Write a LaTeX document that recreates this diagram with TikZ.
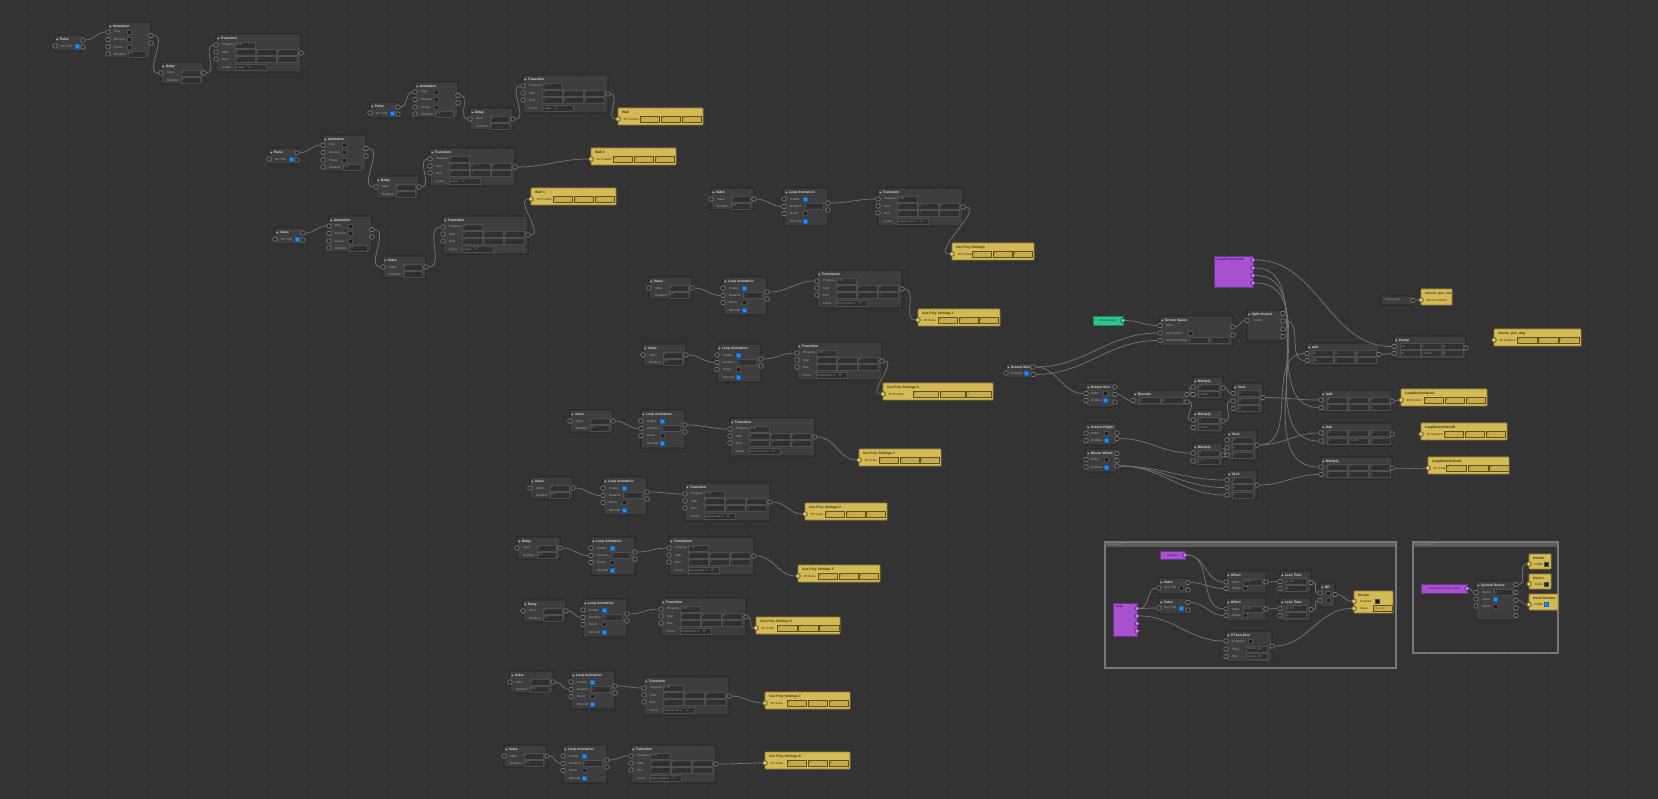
\documentclass[tikz,border=0pt]{standalone}
\usepackage{fontspec}
\setmainfont{Liberation Sans}
\usetikzlibrary{calc}
\definecolor{bg}{RGB}{51,51,51}
\definecolor{dotc}{RGB}{66,66,66}
\definecolor{nfill}{RGB}{62,62,62}
\definecolor{nbord}{RGB}{32,32,32}
\definecolor{ttext}{RGB}{215,215,215}
\definecolor{ltext}{RGB}{165,165,165}
\definecolor{ffill}{RGB}{47,47,47}
\definecolor{fbord}{RGB}{78,78,78}
\definecolor{ftext}{RGB}{140,140,140}
\definecolor{yfill}{RGB}{212,186,86}
\definecolor{ybord}{RGB}{150,128,52}
\definecolor{yfld}{RGB}{198,172,76}
\definecolor{ydark}{RGB}{95,80,30}
\definecolor{ytext}{RGB}{60,50,20}
\definecolor{pfill}{RGB}{168,82,210}
\definecolor{pbord}{RGB}{110,50,140}
\definecolor{pdark}{RGB}{80,30,110}
\definecolor{gfill}{RGB}{46,196,140}
\definecolor{gbord}{RGB}{30,130,90}
\definecolor{wcol}{RGB}{118,118,118}
\definecolor{portf}{RGB}{44,44,44}
\definecolor{portd}{RGB}{140,140,140}
\definecolor{cblue}{RGB}{30,144,255}
\definecolor{cdark}{RGB}{30,30,30}
\definecolor{grpc}{RGB}{120,120,120}
\definecolor{grpbar}{RGB}{92,92,92}
\tikzset{
 nodebox/.style={draw=nbord,fill=nfill,line width=0.7pt,rounded corners=0.8pt,inner sep=0pt,outer sep=0pt},
 ybox/.style={draw=ybord,fill=yfill,line width=0.7pt,rounded corners=0.6pt,inner sep=0pt,outer sep=0pt},
 pbox/.style={draw=pbord,fill=pfill,line width=0.6pt,inner sep=0pt,outer sep=0pt},
 gbox/.style={draw=gbord,fill=gfill,line width=0.6pt,inner sep=0pt,outer sep=0pt},
 ttl/.style={anchor=west,inner sep=0pt,text=ttext,font=\fontsize{3.4}{4}\selectfont\bfseries},
 ttly/.style={anchor=west,inner sep=0pt,text=ytext,font=\fontsize{3.4}{4}\selectfont\bfseries},
 ttlp/.style={anchor=west,inner sep=0pt,text=pdark,font=\fontsize{3.2}{4}\selectfont\bfseries},
 lbl/.style={anchor=west,inner sep=0pt,text=ltext,font=\fontsize{3}{3.6}\selectfont},
 lbly/.style={anchor=west,inner sep=0pt,text=ytext,font=\fontsize{3}{3.6}\selectfont},
 ctr/.style={inner sep=0pt,text=ytext,font=\fontsize{3}{3.6}\selectfont},
 fld/.style={draw=fbord,fill=ffill,line width=0.4pt,inner sep=0pt,minimum height=6pt,anchor=west},
 fldy/.style={draw=ydark,fill=yfld,line width=0.5pt,inner sep=0pt,minimum height=6pt,anchor=west},
 ftxt/.style={anchor=west,inner sep=0pt,text=ftext,font=\fontsize{2.8}{3.4}\selectfont},
 ftxty/.style={anchor=west,inner sep=0pt,text=ytext!70!yfld,font=\fontsize{2.8}{3.4}\selectfont},
 port/.style={circle,draw=portd,fill=portf,line width=0.5pt,minimum size=4.6pt,inner sep=0pt},
 yport/.style={circle,draw=ydark,fill=yfill!80!white,line width=0.8pt,minimum size=4.6pt,inner sep=0pt},
 pport/.style={circle,draw=pdark,fill=pfill!70!white,line width=0.7pt,minimum size=4.4pt,inner sep=0pt},
 gport/.style={circle,draw=gbord!60!black,fill=gfill!70!white,line width=0.7pt,minimum size=4.4pt,inner sep=0pt},
 cbb/.style={rectangle,fill=cblue,draw=cblue!70!black,line width=0.3pt,minimum size=4pt,inner sep=0pt},
 cbd/.style={rectangle,fill=cdark,draw=fbord,line width=0.3pt,minimum size=4pt,inner sep=0pt},
 wire/.style={draw=wcol,line width=0.7pt},
 grp/.style={draw=grpc,line width=1.4pt,fill=bg,inner sep=0pt,outer sep=0pt},
}
\newcounter{qn}
\newcommand\qLb[3]{\stepcounter{qn}\node[lbl] (q\theqn) at (#1,#2) {#3};}
\newcommand\qLy[3]{\stepcounter{qn}\node[lbly] (q\theqn) at (#1,#2) {#3};}
\newcommand\qFd[4]{\stepcounter{qn}\node[fld,minimum width=#3pt] (q\theqn) at (#1,#2) {};\node[ftxt,xshift=1.5pt] (q\theqn t) at (q\theqn.west) {#4};}
\newcommand\qFy[4]{\stepcounter{qn}\node[fldy,minimum width=#3pt] (q\theqn) at (#1,#2) {};\node[ftxty,xshift=1.5pt] (q\theqn t) at (q\theqn.west) {#4};}
\newcommand\qCb[3]{\stepcounter{qn}\node[#3] (q\theqn) at (#1,#2) {};}
\newcommand\qPt[3]{\node[port] (#1) at (#2,#3) {};}
\newcommand\qPy[3]{\node[yport] (#1) at (#2,#3) {};}
\newcommand\qPp[3]{\node[pport] (#1) at (#2,#3) {};}
\newcommand\qBx[4]{\node[nodebox,minimum width=#2pt,minimum height=#3pt,anchor=north west] (#1) at (0,0) {};
 \node[ttl] (#1-t) at (4.6,4.4) {#4};
 \fill[ttext] (1.6,3.4) -- (3.3,4.4) -- (1.6,5.4) -- cycle;}
\newcommand\qBy[4]{\node[ybox,minimum width=#2pt,minimum height=#3pt,anchor=north west] (#1) at (0,0) {};
 \node[ttly] (#1-t) at (4,4.4) {#4};}
\newcommand\qW[2]{\draw[wire] (#1) to[out=0,in=180] (#2);}
\newcommand\qRow[4]{\qFd{5.5}{#1}{20}{#2}\qFd{27}{#1}{20}{#3}\qFd{48.5}{#1}{20}{#4}}
% templates
\newcommand\mkPulse[4]{\begin{scope}[shift={(#2,#3)}]
 \qBx{#1}{28}{16}{#4}
 \qLb{6}{11}{On / Off}\qCb{22.5}{11}{cbb}
 \qPt{#1-i}{0}{11}\qPt{#1-o1}{28}{5}\qPt{#1-o2}{28}{12}
\end{scope}}
\newcommand\mkAnim[3]{\begin{scope}[shift={(#2,#3)}]
 \qBx{#1}{43}{36}{Animation}
 \qLb{6}{10}{Play}\qCb{21}{10}{cbd}
 \qLb{6}{17.5}{Reverse}\qCb{21}{17.5}{cbd}
 \qLb{6}{25}{Pause}\qCb{21}{25}{cbd}
 \qLb{6}{32}{Duration}\qFd{19.5}{32}{18}{1.0}
 \qPt{#1-i1}{0}{10}\qPt{#1-i2}{0}{17.5}\qPt{#1-i3}{0}{25}\qPt{#1-i4}{0}{32}
 \qPt{#1-o1}{43}{13.5}\qPt{#1-o2}{43}{21}
\end{scope}}
\newcommand\mkDelay[8]{\begin{scope}[shift={(#2,#3)}]
 \qBx{#1}{43}{22}{#4}
 \qLb{6}{11}{#5}\qFd{19.5}{11}{19}{#6}
 \qLb{6}{18}{#7}\qFd{19.5}{18}{19}{#8}
 \qPt{#1-i}{0}{11}\qPt{#1-o}{43}{11}
\end{scope}}
\newcommand\mkTrans[6]{\begin{scope}[shift={(#2,#3)}]
 \qBx{#1}{85}{38}{#4}
 \qLb{6}{11}{Progress}\qFd{19}{11}{20}{#6}
 \qLb{6}{18}{Start}\qFd{19}{18}{19.5}{0}\qFd{40}{18}{19.5}{0}\qFd{61}{18}{19.5}{0}
 \qLb{6}{25}{End}\qFd{19}{25}{19.5}{1}\qFd{40}{25}{19.5}{1}\qFd{61}{25}{19.5}{1}
 \qLb{6}{33}{Curve}\qFd{19}{33}{31}{#5\ \ \ \(\vee\)}
 \qPt{#1-i1}{0}{11}\qPt{#1-i2}{0}{18}\qPt{#1-i3}{0}{25}\qPt{#1-o}{85}{19}
\end{scope}}
\newcommand\mkLoop[3]{\begin{scope}[shift={(#2,#3)}]
 \qBx{#1}{44}{38}{Loop Animation}
 \qLb{6}{11}{Enable}\qCb{21.5}{11}{cbb}
 \qLb{6}{18.5}{Duration}\qFd{20}{18.5}{19}{1}
 \qLb{6}{25.5}{Reset}\qCb{21.5}{25.5}{cbd}
 \qLb{6}{33}{Mirrored}\qCb{21.5}{33}{cbb}
 \qPt{#1-i1}{0}{11}\qPt{#1-i2}{0}{18.5}\qPt{#1-i3}{0}{25.5}
 \qPt{#1-o1}{44}{15}\qPt{#1-o2}{44}{22}
\end{scope}}
\newcommand\mkYel[8]{\begin{scope}[shift={(#2,#3)}]
 \qBy{#1}{#4}{17}{#5}
 \qLy{5.5}{11}{#6}
 \qFy{#7}{11}{#8}{0}\qFy{#7+#8+1.5}{11}{#8}{0}\qFy{#7+2*#8+3}{11}{#8}{0}
 \qPy{#1-i}{0}{11}
\end{scope}}
\newcommand\mkVal[3]{\mkDelay{#1}{#2}{#3}{Value}{Index}{0}{Duration}{0.5}}
\begin{document}
\begin{tikzpicture}[x=1pt,y=-1pt]
\fill[bg] (0,0) rectangle (1658,799);
\useasboundingbox (0,0) rectangle (1658,799);
\foreach \yy in {4,14,...,799} \draw[dotc,line width=0.9pt,dash pattern=on 0.9pt off 9.1pt] (4,\yy) -- (1658,\yy);
% ---------- cluster A
\mkPulse{A1}{55}{35}{Pulse}
\mkAnim{A2}{108}{22}
\mkDelay{A3}{161}{62}{Delay}{Input}{0}{Duration}{2}
\mkTrans{A4}{216}{34}{Transition}{Linear}{0.00}
% ---------- cluster B
\mkPulse{B1}{370}{102}{Pulse}
\mkAnim{B2}{415}{82}
\mkDelay{B3}{470}{108}{Delay}{Input}{0}{Duration}{2}
\mkTrans{B4}{523}{75}{Transition}{Linear}{0}
\mkYel{B5}{618}{108}{85}{Wall}{3D Position}{21.5}{19.5}
% ---------- cluster C
\mkPulse{C1}{269}{148}{Pulse}
\mkAnim{C2}{323}{135}
\mkDelay{C3}{376}{176}{Delay}{Input}{0}{Duration}{2}
\mkTrans{C4}{430}{148}{Transition}{Linear}{0}
\mkYel{C5}{591}{148}{85}{Wall 2}{3D Position}{21.5}{19.5}
% ---------- cluster D
\mkPulse{D1}{275}{228}{Value}
\mkAnim{D2}{329}{216}
\mkDelay{D3}{383}{256}{Value}{Index}{0}{Duration}{2}
\mkTrans{D4}{443}{216}{Transition}{Linear}{0}
\mkYel{D5}{531}{188}{85}{Wall 1}{3D Position}{21.5}{19.5}
% ---------- loop clusters
\mkVal{E1}{711}{188}\mkLoop{E2}{784}{188}\mkTrans{E3}{878}{188}{Transition}{Exponential In}{0.00}
\mkYel{E4}{952}{243}{82}{Use Poly Settings}{3D Position}{20}{19}
\mkVal{F1}{649}{277}\mkLoop{F2}{723}{277}\mkTrans{F3}{817}{270}{Translation}{Exponential In}{0.00}
\mkYel{F4}{918}{309}{82}{Use Poly Settings 1}{3D Scale}{20}{19}
\mkVal{G1}{643}{344}\mkLoop{G2}{717}{344}\mkTrans{G3}{797}{342}{Transition}{Exponential In}{0.00}
\mkYel{G4}{883}{383}{110}{Use Poly Settings 2}{3D Position}{30}{25}
\mkVal{H1}{570}{410}\mkLoop{H2}{641}{410}\mkTrans{H3}{730}{418}{Transition}{Exponential In}{0.00}
\mkYel{H4}{859}{449}{82}{Use Poly Settings 3}{3D Scale}{20}{19}
\mkVal{I1}{530}{477}\mkLoop{I2}{603}{477}\mkTrans{I3}{685}{483}{Transition}{Exponential In}{0.00}
\mkYel{I4}{805}{503}{82}{Use Poly Settings 4}{3D Scale}{20}{19}
\mkDelay{J1}{517}{537}{Delay}{Input}{0}{Duration}{0.5}\mkLoop{J2}{591}{537}\mkTrans{J3}{669}{537}{Translation}{Exponential In}{0.00}
\mkYel{J4}{798}{565}{82}{Use Poly Settings 5}{3D Scale}{20}{19}
\mkDelay{K1}{523}{600}{Delay}{Input}{0}{Duration}{1.0}\mkLoop{K2}{583}{599}\mkTrans{K3}{661}{598}{Transition}{Exponential In}{0.00}
\mkYel{K4}{756}{617}{84}{Use Poly Settings 6}{3D Scale}{21}{19.5}
\mkVal{M1x}{510}{671}\mkLoop{M2x}{571}{671}\mkTrans{M3x}{644}{677}{Transition}{Exponential In}{0.00}
\mkYel{M4x}{765}{692}{85}{Use Poly Settings 7}{3D Scale}{21.5}{19.5}
\mkVal{N1x}{504}{745}\mkLoop{N2x}{563}{745}\mkTrans{N3x}{631}{745}{Transition}{Exponential In}{0.00}
\mkYel{N4x}{765}{752}{85}{Use Poly Settings 8}{3D Scale}{21.5}{19.5}
% ---------- right cluster
\node[pbox,minimum width=39pt,minimum height=31pt,anchor=north west] (P1) at (1214,256) {};
\node[ttlp] (P1t) at (1216.5,259.5) {LeapMotionHandL};
\qPp{P1-p1}{1253}{260}\qPp{P1-p2}{1253}{268}\qPp{P1-p3}{1253}{275.5}\qPp{P1-p4}{1253}{283}
\node[gbox,minimum width=30pt,minimum height=9pt,anchor=north west] (GN) at (1093,316) {};
\node[ctr] (GNt) at (GN.center) {Mouse Input};
\node[gport] (GN-o) at (1123,320.5) {};
\begin{scope}[shift={(1160,316)}]
 \qBx{S1}{73}{30}{Screen Space}
 \qLb{6}{9.5}{Input}\qLb{6}{17}{Set Position}\qCb{30}{17}{cbd}
 \qLb{6}{24.5}{Screen Position}\qFd{28.5}{24.5}{19}{1}\qFd{49.5}{24.5}{19}{1}
 \qPt{S1-i1}{0}{9.5}\qPt{S1-i2}{0}{17}\qPt{S1-i3}{0}{24.5}\qPt{S1-o1}{73}{11}\qPt{S1-o2}{73}{19}
\end{scope}
\begin{scope}[shift={(1247,310)}]
 \qBx{SP}{36}{31}{Split Vector3}
 \qLb{6}{10.5}{Vector}
 \qPt{SP-i}{0}{10.5}\qPt{SP-o1}{36}{3.5}\qPt{SP-o2}{36}{11}\qPt{SP-o3}{36}{19}\qPt{SP-o4}{36}{26.5}
\end{scope}
\begin{scope}[shift={(1006,363)}]
 \qBx{SS}{27}{15}{Screen Size}
 \qLb{5}{10}{Enabled}\qCb{20}{10}{cbb}
 \qPt{SS-i}{0}{10}\qPt{SS-o1}{27}{4}\qPt{SS-o2}{27}{11.5}
\end{scope}
\begin{scope}[shift={(1086,383)}]
 \qBx{N1}{29}{24}{Screen Size}
 \qLb{5}{10.5}{Width}\qCb{19.5}{10.5}{cbd}\qLb{5}{17.5}{Enabled}\qCb{19.5}{17.5}{cbb}
 \qPt{N1-i1}{0}{10.5}\qPt{N1-i2}{0}{17.5}\qPt{N1-o1}{29}{4}\qPt{N1-o2}{29}{11.5}\qPt{N1-o3}{29}{19}
\end{scope}
\begin{scope}[shift={(1133,390)}]
 \qBx{RS}{54}{16}{Rescale}
 \qFd{6}{10.5}{21}{0}\qFd{29}{10.5}{21}{0}
 \qPt{RS-i}{0}{10.5}\qPt{RS-o1}{54}{4.5}\qPt{RS-o2}{54}{12}
\end{scope}
\begin{scope}[shift={(1193,377)}]
 \qBx{M1}{30}{22}{Multiply}
 \qFd{5}{10}{21}{0}\qFd{5}{17.5}{21}{0.0002}
 \qPt{M1-i1}{0}{10}\qPt{M1-i2}{0}{17.5}\qPt{M1-o}{30}{11}
\end{scope}
\begin{scope}[shift={(1193,410)}]
 \qBx{M2}{30}{22}{Multiply}
 \qFd{5}{10}{21}{0}\qFd{5}{17.5}{21}{0.0001}
 \qPt{M2-i1}{0}{10}\qPt{M2-i2}{0}{17.5}\qPt{M2-o}{30}{11}
\end{scope}
\begin{scope}[shift={(1233,383)}]
 \qBx{V1}{30}{30}{Vec3}
 \qFd{5}{10.5}{21}{0}\qFd{5}{18}{21}{0}\qFd{5}{25.5}{21}{0}
 \qPt{V1-i1}{0}{10.5}\qPt{V1-i2}{0}{18}\qPt{V1-i3}{0}{25.5}\qPt{V1-o}{30}{14.5}
\end{scope}
\begin{scope}[shift={(1086,423)}]
 \qBx{N2}{31}{22}{Screen Height}
 \qLb{5}{10}{Width}\qCb{20}{10}{cbd}\qLb{5}{17.5}{Enabled}\qCb{20}{17.5}{cbb}
 \qPt{N2-i1}{0}{10}\qPt{N2-i2}{0}{17.5}\qPt{N2-o1}{31}{10}\qPt{N2-o2}{31}{15.5}
\end{scope}
\begin{scope}[shift={(1086,449)}]
 \qBx{N3}{31}{23}{Mouse Wheel}
 \qLb{5}{10.5}{Width}\qCb{20}{10.5}{cbd}\qLb{5}{18}{Enabled}\qCb{20}{18}{cbb}
 \qPt{N3-i1}{0}{10.5}\qPt{N3-i2}{0}{18}\qPt{N3-o1}{31}{4.5}\qPt{N3-o2}{31}{11.5}\qPt{N3-o3}{31}{17}
\end{scope}
\begin{scope}[shift={(1193,443)}]
 \qBx{M3}{30}{23}{Multiply}
 \qFd{5}{10}{21}{0}\qFd{5}{18}{21}{-1}
 \qPt{M3-i1}{0}{10}\qPt{M3-i2}{0}{18}\qPt{M3-o}{30}{12}
\end{scope}
\begin{scope}[shift={(1227,430)}]
 \qBx{V2}{30}{30}{Vec3}
 \qFd{5}{10}{21}{0}\qFd{5}{17.5}{21}{0}\qFd{5}{25}{21}{0}
 \qPt{V2-i1}{0}{10}\qPt{V2-i2}{0}{17.5}\qPt{V2-i3}{0}{25}\qPt{V2-o}{30}{15}
\end{scope}
\begin{scope}[shift={(1227,470)}]
 \qBx{V3}{30}{28}{Vec3}
 \qFd{5}{10}{21}{1}\qFd{5}{17.5}{21}{1}\qFd{5}{25}{21}{1}
 \qPt{V3-i1}{0}{10}\qPt{V3-i2}{0}{17.5}\qPt{V3-i3}{0}{25}\qPt{V3-o}{30}{15}
\end{scope}
\begin{scope}[shift={(1307,343)}]
 \qBx{AD1}{72}{22}{add}
 \qRow{10.5}{0}{0}{0}\qRow{17.5}{90}{0}{0}
 \qPt{AD1-i1}{0}{10.5}\qPt{AD1-i2}{0}{17.5}\qPt{AD1-o}{72}{11.5}
\end{scope}
\begin{scope}[shift={(1394,336)}]
 \qBx{CL}{72}{23}{Clamp}
 \qRow{10.5}{-90}{0}{0}\qRow{17.5}{90}{-0.0125}{0}
 \qPt{CL-i1}{0}{10.5}\qPt{CL-i2}{0}{17.5}\qPt{CL-o}{72}{12}
\end{scope}
\begin{scope}[shift={(1321,390)}]
 \qBx{AD2}{71}{22}{Add}
 \qRow{10}{0}{0}{0}\qRow{17.5}{0}{0}{0}
 \qPt{AD2-i1}{0}{10}\qPt{AD2-i2}{0}{17.5}\qPt{AD2-o}{71}{11}
\end{scope}
\begin{scope}[shift={(1321,423)}]
 \qBx{SB}{71}{23}{Sub}
 \qRow{10}{0}{0}{0}\qRow{18}{0}{-0.025}{0}
 \qPt{SB-i1}{0}{10}\qPt{SB-i2}{0}{18}\qPt{SB-o}{71}{11}
\end{scope}
\begin{scope}[shift={(1321,457)}]
 \qBx{MU}{71}{22}{Multiply}
 \qRow{10}{1}{1}{1}\qRow{17.5}{1}{1}{1}
 \qPt{MU-i1}{0}{10}\qPt{MU-i2}{0}{17.5}\qPt{MU-o}{71}{11}
\end{scope}
\node[nodebox,minimum width=32pt,minimum height=9pt,anchor=north west] (MP) at (1381,296) {};
\node[lbl] (MPt) at (1385,300.5) {mouse\_pos};
\qPt{MP-o}{1413}{300.5}
\begin{scope}[shift={(1421,289)}]
 \qBy{YMP}{31}{16}{mouse\_pos\_out}
 \qLy{5.5}{11}{Mouse Position}
 \qPy{YMP-i}{0}{11}
\end{scope}
\mkYel{YCL}{1494}{329}{87}{mouse\_pos\_deg}{3D Rotation}{23}{19.5}
\mkYel{Y2}{1401}{389}{86}{LeapMotionHandL}{3D Position}{22.5}{19.5}
\mkYel{Y3}{1421}{423}{86}{LeapMotionHandR}{3D Rotation}{22.5}{19.5}
\mkYel{Y4}{1428}{457}{81}{LeapMotionHandL}{3D Scale}{18}{20}
% ---------- group box 1
\node[grp,minimum width=291pt,minimum height=126pt,anchor=north west] (BOX1) at (1105,542) {};
\fill[grpbar] (1105.7,542.7) rectangle (1395.3,546.5);
\node[lbl,text=ltext!80!black,font=\fontsize{2.6}{3}\selectfont] (BOX1t) at (1108,544.6) {Strobe Light};
\node[pbox,minimum width=25pt,minimum height=8pt,anchor=north west] (BP1) at (1160,551) {};
\node[ctr,text=pdark] (BP1t) at (BP1.center) {Boolean};
\qPp{BP1-o}{1185}{555}
\node[pbox,minimum width=24pt,minimum height=33pt,anchor=north west] (BP2) at (1113,603) {};
\node[ttlp] (BP2t) at (1115.5,607) {Leap};
\qPp{BP2-p1}{1137}{608.5}\qPp{BP2-p2}{1137}{616}\qPp{BP2-p3}{1137}{623.5}\qPp{BP2-p4}{1137}{631}
\begin{scope}[shift={(1159,578)}]
 \qBx{BV1}{29}{16}{Value}
 \qLb{5}{10}{Key / ON}\qCb{22}{10}{cbd}
 \qPt{BV1-i}{0}{10}\qPt{BV1-o1}{29}{4.5}\qPt{BV1-o2}{29}{12}
\end{scope}
\begin{scope}[shift={(1159,598)}]
 \qBx{BV2}{29}{16}{Value}
 \qLb{5}{10}{Key / ON}\qCb{22}{10}{cbb}
 \qPt{BV2-i}{0}{10}\qPt{BV2-o1}{29}{4.5}\qPt{BV2-o2}{29}{12}
\end{scope}
\begin{scope}[shift={(1226,571)}]
 \qBx{BO1}{40}{22}{Offset}
 \qLb{6}{11}{Value}\qFd{17}{11}{19}{0.737}\qLb{6}{17.5}{Phase}\qCb{19}{17.5}{cbd}
 \qPt{BO1-i1}{0}{11}\qPt{BO1-i2}{0}{17.5}\qPt{BO1-o}{40}{11}
\end{scope}
\begin{scope}[shift={(1226,598)}]
 \qBx{BO2}{40}{23}{Offset}
 \qLb{6}{11}{Value}\qFd{17}{11}{19}{0.302}\qLb{6}{17.5}{Phase}\qCb{19}{17.5}{cbd}
 \qPt{BO2-i1}{0}{11}\qPt{BO2-i2}{0}{17.5}\qPt{BO2-o}{40}{11}
\end{scope}
\begin{scope}[shift={(1280,571)}]
 \qBx{BL1}{31}{22}{Less Than}
 \qFd{5.5}{10.5}{20}{0.735}\qFd{5.5}{17.5}{20}{1}
 \qPt{BL1-i1}{0}{10.5}\qPt{BL1-i2}{0}{17.5}\qPt{BL1-o}{31}{11.5}
\end{scope}
\begin{scope}[shift={(1280,598)}]
 \qBx{BL2}{31}{23}{Less Than}
 \qFd{5.5}{10.5}{20}{0.735}\qFd{5.5}{17.5}{20}{2}
 \qPt{BL2-i1}{0}{10.5}\qPt{BL2-i2}{0}{17.5}\qPt{BL2-o}{31}{11.5}
\end{scope}
\begin{scope}[shift={(1320,583)}]
 \qBx{BOR}{15}{24}{OR}
 \qCb{8}{10}{cbd}\qCb{8}{17.5}{cbd}
 \qPt{BOR-i1}{0}{10}\qPt{BOR-i2}{0}{17.5}\qPt{BOR-o}{15}{11.5}
\end{scope}
\begin{scope}[shift={(1226,631)}]
 \qBx{BIF}{46}{31}{If Then Else}
 \qLb{6}{10}{Condition}\qCb{24}{10}{cbd}
 \qLb{6}{18}{Then}\qFd{20}{18}{21}{Strobe\_On}
 \qLb{6}{25.5}{Else}\qFd{20}{25.5}{21}{Strobe\_Off}
 \qPt{BIF-i1}{0}{10}\qPt{BIF-i2}{0}{18}\qPt{BIF-i3}{0}{25.5}\qPt{BIF-o}{46}{15}
\end{scope}
\begin{scope}[shift={(1354,591)}]
 \qBy{BY}{39}{22}{Strobe}
 \qLy{6}{10.3}{Enabled}\qCb{23}{10.3}{cbd}
 \qLy{6}{17.5}{Value}\qFy{19}{17.5}{18.5}{set.on.in}
 \qPy{BY-i1}{0}{10.3}\qPy{BY-i2}{0}{17.5}
\end{scope}
% ---------- group box 2
\node[grp,minimum width=145pt,minimum height=111pt,anchor=north west] (BOX2) at (1413,542) {};
\fill[grpbar] (1413.7,542.7) rectangle (1557.3,546.5);
\node[lbl,text=ltext!80!black,font=\fontsize{2.6}{3}\selectfont] (BOX2t) at (1416,544.6) {Hands Detection};
\node[pbox,minimum width=46pt,minimum height=9pt,anchor=north west] (CP) at (1421,584) {};
\node[ctr,text=pdark] (CPt) at (CP.center) {LeapMotionHandTracker};
\qPp{CP-o}{1467}{588.5}
\begin{scope}[shift={(1476,581)}]
 \qBx{CS}{40}{39}{System Device}
 \qLb{6}{11.5}{Device}\qFd{18}{11.5}{18}{0}
 \qLb{6}{18}{Active}\qCb{19}{18}{cbb}
 \qLb{6}{25}{Hands}\qCb{19}{25}{cbd}
 \qPt{CS-i1}{0}{11.5}\qPt{CS-i2}{0}{18}\qPt{CS-i3}{0}{25}
 \qPt{CS-o1}{40}{3.6}\qPt{CS-o2}{40}{11.5}\qPt{CS-o3}{40}{19.3}\qPt{CS-o4}{40}{27}\qPt{CS-o5}{40}{34.5}
\end{scope}
\begin{scope}[shift={(1529,554)}]
 \qBy{CY1}{22}{15}{Handle}
 \qLy{5}{10}{Visible}\qCb{17}{10}{cbd}\qPy{CY1-i}{0}{10}
\end{scope}
\begin{scope}[shift={(1529,574)}]
 \qBy{CY2}{22}{15}{Hand L}
 \qLy{5}{10}{Visible}\qCb{17}{10}{cbd}\qPy{CY2-i}{0}{10}
\end{scope}
\begin{scope}[shift={(1529,594)}]
 \qBy{CY3}{29}{16}{Hand Gesture}
 \qLy{5}{10.5}{Visible}\qCb{17}{10.5}{cbb}\qPy{CY3-i}{0}{10.5}
\end{scope}
% ---------- wires
\qW{A1-o1}{A2-i1}\qW{A2-o1}{A3-i}\qW{A3-o}{A4-i1}
\qW{B1-o1}{B2-i1}\qW{B2-o1}{B3-i}\qW{B3-o}{B4-i1}\qW{B4-o}{B5-i}
\qW{C1-o1}{C2-i1}\qW{C2-o1}{C3-i}\qW{C3-o}{C4-i1}\qW{C4-o}{C5-i}
\qW{D1-o1}{D2-i1}\qW{D2-o1}{D3-i}\qW{D3-o}{D4-i1}\qW{D4-o}{D5-i}
\qW{E1-o}{E2-i2}\qW{E2-o1}{E3-i1}\qW{E3-o}{E4-i}
\qW{F1-o}{F2-i2}\qW{F2-o1}{F3-i1}\qW{F3-o}{F4-i}
\qW{G1-o}{G2-i2}\qW{G2-o1}{G3-i1}\qW{G3-o}{G4-i}
\qW{H1-o}{H2-i2}\qW{H2-o1}{H3-i1}\qW{H3-o}{H4-i}
\qW{I1-o}{I2-i2}\qW{I2-o1}{I3-i1}\qW{I3-o}{I4-i}
\qW{J1-o}{J2-i2}\qW{J2-o1}{J3-i1}\qW{J3-o}{J4-i}
\qW{K1-o}{K2-i2}\qW{K2-o1}{K3-i1}\qW{K3-o}{K4-i}
\qW{M1x-o}{M2x-i2}\qW{M2x-o1}{M3x-i1}\qW{M3x-o}{M4x-i}
\qW{N1x-o}{N2x-i2}\qW{N2x-o1}{N3x-i1}\qW{N3x-o}{N4x-i}
% right cluster
\qW{GN-o}{S1-i1}\qW{S1-o1}{SP-i}
\qW{SS-o1}{S1-i2}\qW{SS-o2}{S1-i3}\qW{SS-o1}{N1-i1}
\qW{N1-o2}{RS-i}\qW{RS-o1}{M1-i1}\qW{RS-o2}{M2-i1}
\qW{M1-o}{V1-i1}\qW{M2-o}{V1-i2}\qW{V1-o}{AD2-i1}
\qW{N2-o2}{M3-i1}\qW{M3-o}{V2-i2}
\qW{V2-o}{AD1-i1}\qW{V2-o}{SB-i1}
\qW{N3-o3}{V3-i1}\qW{N3-o3}{V3-i2}\qW{N3-o3}{V3-i3}
\qW{V3-o}{MU-i2}
\qW{AD1-o}{CL-i2}
\qW{P1-p1}{CL-i1}\qW{P1-p2}{AD2-i2}\qW{P1-p3}{SB-i2}\qW{P1-p4}{MU-i1}
\qW{SP-o2}{AD1-i2}
\qW{MP-o}{YMP-i}\qW{AD2-o}{Y2-i}\qW{MU-o}{Y4-i}
% box 1
\qW{BP2-p1}{BV1-i}\qW{BP2-p1}{BV2-i}\qW{BP2-p2}{BIF-i1}
\qW{BP1-o}{BO1-i1}\qW{BP1-o}{BO2-i1}
\qW{BV1-o1}{BO1-i2}\qW{BV2-o1}{BO2-i2}
\qW{BO1-o}{BL1-i1}\qW{BO2-o}{BL2-i1}
\qW{BL1-o}{BOR-i1}\qW{BL2-o}{BOR-i2}
\qW{BOR-o}{BY-i1}\qW{BIF-o}{BY-i2}
% box 2
\qW{CP-o}{CS-i1}\qW{CS-o1}{CY1-i}\qW{CS-o3}{CY3-i}
\end{tikzpicture}
\end{document}
